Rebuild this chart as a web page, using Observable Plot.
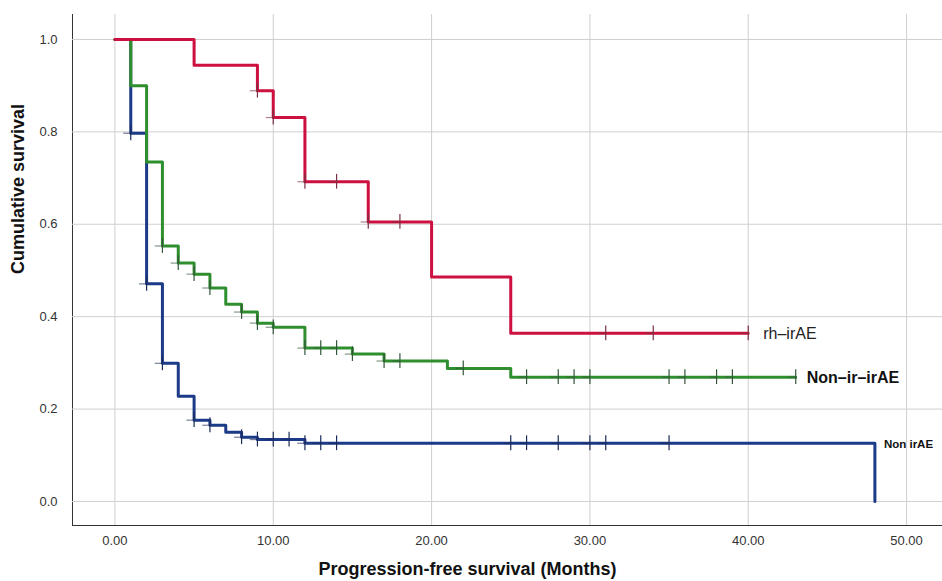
<!DOCTYPE html>
<html>
<head>
<meta charset="utf-8">
<script src="https://cdn.jsdelivr.net/npm/d3@7"></script>
<script src="https://cdn.jsdelivr.net/npm/@observablehq/plot@0.6"></script>
<style>
  html, body { margin: 0; padding: 0; background: #fff; }
  svg { display: block; }
</style>
</head>
<body>
<div id="chart"></div>
<script>
const groups = ["Non irAE", "Non–ir–irAE", "rh–irAE"];
const groupColors = ["#1b3a87", "#2f8f2f", "#cc1040"];
const censorColors = ["#1b2a5a", "#33553a", "#7a3040"];

// Non irAE (blue)
const blueTimes = [0, 1, 2, 3, 4, 5, 6, 7, 8, 9, 12, 48];
const blueSurv  = [1.0, 0.797, 0.471, 0.299, 0.228, 0.176, 0.165, 0.150, 0.139, 0.134, 0.126, 0.0];
const blueCensor = [1, 2, 3, 5, 6, 8, 9, 10, 11, 12, 13, 14, 25, 26, 28, 30, 31, 35];

// Non–ir–irAE (green)
const greenTimes = [0, 1, 2, 3, 4, 5, 6, 7, 8, 9, 10, 12, 15, 17, 21, 25, 43];
const greenSurv  = [1.0, 0.900, 0.735, 0.553, 0.516, 0.492, 0.462, 0.427, 0.410, 0.386, 0.377, 0.332, 0.319, 0.304, 0.288, 0.269, 0.269];
const greenCensor = [3, 4, 5, 6, 8, 9, 10, 12, 13, 14, 15, 17, 18, 22, 26, 28, 29, 30, 35, 36, 38, 39, 43];

// rh–irAE (red)
const redTimes = [0, 5, 9, 10, 12, 16, 20, 25, 40];
const redSurv  = [1.0, 0.944, 0.889, 0.831, 0.692, 0.605, 0.486, 0.364, 0.364];
const redCensor = [9, 10, 12, 14, 16, 18, 31, 34, 40];

const xTicks = [0, 10, 20, 30, 40, 50];
const yTicks = [0, 0.2, 0.4, 0.6, 0.8, 1.0];
const xTitle = "Progression-free survival (Months)";
const yTitle = "Cumulative survival";

// ---- Build tables ----
const series = [
  {times: blueTimes, surv: blueSurv, censor: blueCensor},
  {times: greenTimes, surv: greenSurv, censor: greenCensor},
  {times: redTimes, surv: redSurv, censor: redCensor}
];
const steps = [];
const censors = [];
const ends = [];
series.forEach((s, gi) => {
  s.times.forEach((t, i) => steps.push({group: groups[gi], t, s: s.surv[i]}));
  const level = t => {
    let v = s.surv[0];
    for (let i = 0; i < s.times.length; i++) if (s.times[i] <= t && s.surv[i] > 0) v = s.surv[i];
    return v;
  };
  s.censor.forEach(t => censors.push({group: groups[gi], t, s: level(t), c: censorColors[gi]}));
  const last = s.times.length - 1;
  ends.push({group: groups[gi], t: s.times[last], s: gi === 0 ? s.surv[last - 1] : s.surv[last]});
});

const labelStyle = {
  "Non irAE":     {dx: 9,  size: 11.5, weight: "bold", fill: "#111"},
  "Non–ir–irAE":  {dx: 11, size: 16, weight: "bold", fill: "#111"},
  "rh–irAE":      {dx: 15, size: 16, weight: "normal", fill: "#222"}
};

const chart = Plot.plot({
  width: 942,
  height: 581,
  marginLeft: 72,
  marginRight: 0,
  marginTop: 14,
  marginBottom: 56,
  style: {fontFamily: "'Liberation Sans', Arial, sans-serif", fontSize: "13px", color: "#333", background: "#fff"},
  x: {domain: [-2.68, 52.27], ticks: xTicks, tickFormat: d3.format(".2f"), tickSize: 0, tickPadding: 10, line: true, label: null},
  y: {domain: [-0.052, 1.054], ticks: yTicks, tickFormat: d3.format(".1f"), tickSize: 0, tickPadding: 15, line: true, label: null},
  color: {domain: groups, range: groupColors},
  marks: [
    Plot.gridX(xTicks, {stroke: "#cfcfcf", strokeOpacity: 1, strokeWidth: 1}),
    Plot.gridY(yTicks, {stroke: "#cfcfcf", strokeOpacity: 1, strokeWidth: 1}),
    Plot.line(steps, {x: "t", y: "s", z: "group", stroke: "group", strokeWidth: 3, curve: "step-after"}),
    Plot.ruleX(censors, {x: "t", y1: d => d.s - 0.016, y2: d => d.s + 0.016, stroke: "c", strokeWidth: 1.2}),
    Plot.ruleY(censors, {y: "s", x1: d => d.t - 0.45, x2: d => d.t, stroke: "c", strokeWidth: 1.2, strokeOpacity: 0.6}),
    ...groups.map(g => Plot.text(ends.filter(d => d.group === g), {
      x: "t", y: "s", text: "group", textAnchor: "start", dx: labelStyle[g].dx, dy: 1,
      fontSize: labelStyle[g].size, fontWeight: labelStyle[g].weight, fill: labelStyle[g].fill
    })),
    Plot.text([yTitle], {frameAnchor: "left", rotate: -90, dx: -54, dy: 4, fontSize: 18, fontWeight: "bold", fill: "#111"}),
    Plot.text([xTitle], {frameAnchor: "bottom", dx: -40, dy: 49, fontSize: 18, fontWeight: "bold", fill: "#111"})
  ]
});
document.getElementById("chart").appendChild(chart);
</script>
</body>
</html>
